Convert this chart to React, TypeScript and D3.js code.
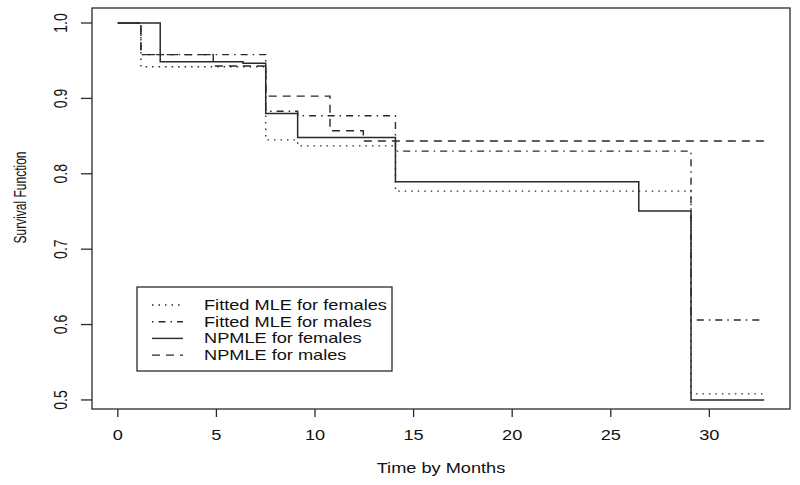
import * as d3 from 'd3';

// step functions: jump times and survival values after each jump
const endTime = 32.78;

const femaleMleTimes = [0, 1.17, 7.5, 9.12, 14.08, 29.07];
const femaleMleValues = [1.0, 0.942, 0.845, 0.837, 0.777, 0.508];

const maleMleTimes = [0, 1.17, 7.5, 9.12, 14.08, 29.07];
const maleMleValues = [1.0, 0.958, 0.883, 0.877, 0.83, 0.606];

const femaleNpTimes = [0, 2.15, 6.35, 7.5, 9.12, 14.08, 26.42, 29.07];
const femaleNpValues = [1.0, 0.9487, 0.9466, 0.88, 0.848, 0.7895, 0.7507, 0.5];

const maleNpTimes = [0, 1.17, 4.84, 7.5, 10.76, 12.45];
const maleNpValues = [1.0, 0.958, 0.943, 0.903, 0.857, 0.8435];

const xTicks = [0, 5, 10, 15, 20, 25, 30];
const yTicks = [0.5, 0.6, 0.7, 0.8, 0.9, 1.0];

const legendLabels = [
  'Fitted MLE for females',
  'Fitted MLE for males',
  'NPMLE for females',
  'NPMLE for males',
];
const dashes = ['1.5,5', '1.5,5,7,5', null, '8,6'];

const width = 800;
const height = 485;
const ink = '#2a2a2a';
const font = '"Liberation Sans", Arial, Helvetica, sans-serif';
const stretch = 1.3;

export default function App() {
  // plot box 92..790 x 8..409
  const x = d3.scaleLinear().domain([-1.31, 34.09]).range([92, 790]);
  const y = d3.scaleLinear().domain([0.488, 1.0199]).range([409, 8]);

  const stepLine = d3
    .line<[number, number]>()
    .x((d) => x(d[0]))
    .y((d) => y(d[1]))
    .curve(d3.curveStepAfter);

  const makePath = (times: number[], values: number[]) => {
    const pts: [number, number][] = times.map((t, i) => [t, values[i]]);
    pts.push([endTime, values[values.length - 1]]);
    return stepLine(pts) || '';
  };

  const series = [
    makePath(femaleMleTimes, femaleMleValues),
    makePath(maleMleTimes, maleMleValues),
    makePath(femaleNpTimes, femaleNpValues),
    makePath(maleNpTimes, maleNpValues),
  ];

  const [x0, x1] = x.range();
  const [yb, yt] = y.range();

  return (
    <svg
      width={width}
      height={height}
      style={{ position: 'absolute', left: 0, top: 0, background: '#fff' }}
      fontFamily={font}
    >
      <rect x={x0} y={yt} width={x1 - x0} height={yb - yt} fill="none" stroke={ink} strokeWidth={1.3} />

      {series.map((d, i) => (
        <path
          key={i}
          d={d}
          fill="none"
          stroke={ink}
          strokeWidth={i === 2 ? 1.5 : 1.4}
          strokeDasharray={dashes[i] || undefined}
        />
      ))}

      {/* x axis */}
      {xTicks.map((t) => (
        <g key={t}>
          <line x1={x(t)} x2={x(t)} y1={yb} y2={yb + 8} stroke={ink} strokeWidth={1.3} />
          <text
            transform={`translate(${x(t)},440) scale(${stretch},1)`}
            textAnchor="middle"
            fontSize={14}
            fill="#111"
          >
            {t}
          </text>
        </g>
      ))}
      <text
        transform={`translate(${(x0 + x1) / 2},473) scale(${stretch},1)`}
        textAnchor="middle"
        fontSize={14}
        fill="#111"
      >
        Time by Months
      </text>

      {/* y axis */}
      {yTicks.map((t) => (
        <g key={t}>
          <line x1={x0 - 11} x2={x0} y1={y(t)} y2={y(t)} stroke={ink} strokeWidth={1.3} />
          <text
            transform={`translate(67,${y(t)}) scale(1.35,1) rotate(-90)`}
            textAnchor="middle"
            fontSize={14}
            fill="#111"
          >
            {t.toFixed(1)}
          </text>
        </g>
      ))}
      <text
        transform={`translate(26,${(yb + yt) / 2 - 11}) scale(1.45,1) rotate(-90)`}
        textAnchor="middle"
        fontSize={12}
        fill="#111"
        style={{ textRendering: 'geometricPrecision' }}
      >
        Survival Function
      </text>

      {/* legend */}
      <rect x={137} y={287} width={255} height={84} fill="#fff" stroke={ink} strokeWidth={1.3} />
      {legendLabels.map((label, i) => {
        const cy = 305 + i * 16.7;
        return (
          <g key={label}>
            <line
              x1={152}
              x2={183}
              y1={cy}
              y2={cy}
              stroke={ink}
              strokeWidth={1.4}
              strokeDasharray={dashes[i] || undefined}
            />
            <text
              transform={`translate(204,${cy + 5}) scale(${stretch},1)`}
              fontSize={14}
              fill="#111"
            >
              {label}
            </text>
          </g>
        );
      })}
    </svg>
  );
}
